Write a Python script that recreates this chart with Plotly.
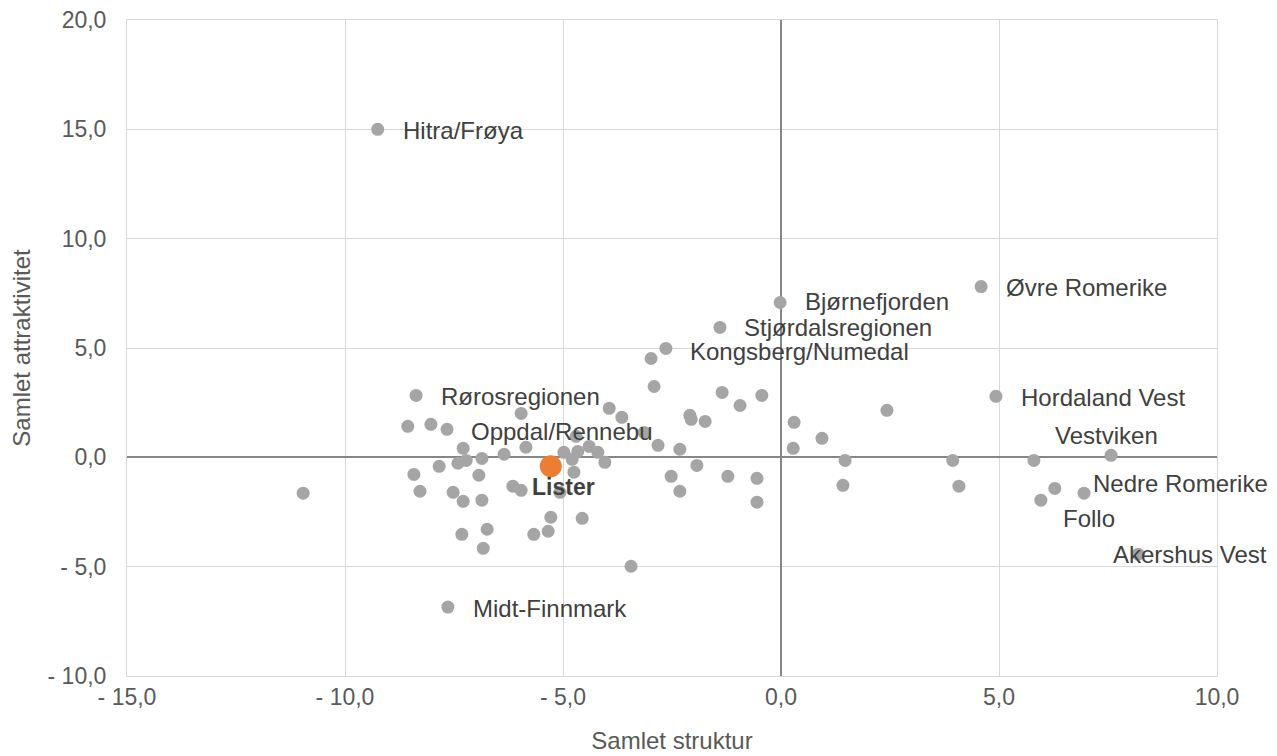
import plotly.graph_objects as go

# Labelled regions
label_names = ["Hitra/Frøya", "Midt-Finnmark", "Bjørnefjorden", "Stjørdalsregionen",
               "Kongsberg/Numedal", "Øvre Romerike", "Hordaland Vest", "Vestviken",
               "Nedre Romerike", "Follo", "Akershus Vest", "Rørosregionen", "Oppdal/Rennebu"]
label_x = [-9.25, -7.64, -0.02, -1.40, -2.64, 4.59, 4.93, 7.57, 6.95, 5.96, 8.19, -8.37, -7.66]
label_y = [15.0, -6.85, 7.08, 5.94, 4.98, 7.81, 2.79, 0.09, -1.64, -1.96, -4.43, 2.83, 1.28]

# Unlabelled regions
other_x = [-10.96, -8.56, -8.03, -7.29, -7.22, -7.41, -7.84, -8.42, -8.28, -7.52,
           -7.29, -6.86, -6.93, -6.86, -7.32, -6.74, -6.83, -6.35, -5.96, -5.85,
           -6.15, -5.96, -5.67, -5.34, -5.28, -4.56, -3.44, -5.07, -4.98, -4.79,
           -4.75, -4.66, -4.40, -4.20, -4.04, -4.70, -3.94, -3.65, -3.14, -2.91,
           -2.98, -2.82, -2.32, -1.93, -2.52, -2.32, -2.09, -2.06, -1.74, -1.35,
           -0.94, -0.44, -1.22, -0.55, -0.55, 0.30, 0.28, 0.94, 2.43, 1.47,
           1.42, 3.94, 4.08, 5.80, 6.28]
other_y = [-1.64, 1.42, 1.51, 0.41, -0.14, -0.27, -0.41, -0.78, -1.55, -1.60,
           -2.01, -1.96, -0.82, -0.05, -3.52, -3.29, -4.16, 0.14, 2.01, 0.46,
           -1.32, -1.51, -3.52, -3.38, -2.74, -2.79, -4.98, -1.60, 0.23, -0.09,
           -0.68, 0.27, 0.50, 0.23, -0.23, 0.96, 2.24, 1.83, 1.14, 3.24,
           4.52, 0.55, 0.37, -0.37, -0.87, -1.55, 1.92, 1.74, 1.64, 2.97,
           2.37, 2.83, -0.87, -0.96, -2.05, 1.60, 0.41, 0.87, 2.15, -0.14,
           -1.28, -0.14, -1.32, -0.14, -1.42]

# Highlighted region
focus_name = "Lister"
focus_x = [-5.28]
focus_y = [-0.41]

x_ticks = [-15, -10, -5, 0, 5, 10]
x_ticktext = ["- 15,0", "- 10,0", "- 5,0", "0,0", "5,0", "10,0"]
y_ticks = [-10, -5, 0, 5, 10, 15, 20]
y_ticktext = ["- 10,0", "- 5,0", "0,0", "5,0", "10,0", "15,0", "20,0"]

# label placement (style): (xanchor, xshift, yshift)
label_style = {
    "Vestviken": ("left", -58, 20),
    "Nedre Romerike": ("left", 7, 10),
    "Follo": ("left", 20, -18),
    "Akershus Vest": ("left", -27, 0),
    "Oppdal/Rennebu": ("left", 22, -2),
    "Bjørnefjorden": ("left", 23, 1),
    "Stjørdalsregionen": ("left", 22, 0),
    "Kongsberg/Numedal": ("left", 22, -3),
}

FONT = "Liberation Sans, Arial, sans-serif"
GRAY = "#A5A5A5"

fig = go.Figure()
fig.add_trace(go.Scatter(x=other_x + label_x, y=other_y + label_y, mode="markers",
                         marker=dict(size=13, color=GRAY), hoverinfo="x+y", showlegend=False))
fig.add_trace(go.Scatter(x=focus_x, y=focus_y, mode="markers",
                         marker=dict(size=22, color="#ED7D31"), showlegend=False))

for n, x, y in zip(label_names, label_x, label_y):
    anchor, xs, ys = label_style.get(n, ("left", 23, -1))
    fig.add_annotation(x=x, y=y, text=n, showarrow=False, xanchor=anchor, yanchor="middle",
                       xshift=xs, yshift=ys, font=dict(family=FONT, size=24, color="#404040"))

fig.add_annotation(x=focus_x[0], y=focus_y[0], text="<b>" + focus_name + "</b>", showarrow=False,
                   xanchor="center", yanchor="middle", xshift=13, yshift=-21,
                   font=dict(family=FONT, size=23, color="#404040"))

axis_common = dict(showgrid=True, gridcolor="#D9D9D9", gridwidth=1,
                   zeroline=True, zerolinecolor="#868686", zerolinewidth=1.5,
                   showline=True, linecolor="#D9D9D9", linewidth=1, mirror=True,
                   automargin=False, ticklen=0, ticklabeloverflow="allow",
                   ticks="", tickfont=dict(family=FONT, size=23, color="#595959"))

fig.update_xaxes(range=[-15, 10], tickvals=x_ticks, ticktext=x_ticktext, ticklabelstandoff=0,
                 title=dict(text="Samlet struktur", font=dict(family=FONT, size=24, color="#595959"),
                            standoff=23), **axis_common)
fig.update_yaxes(range=[-10, 20], tickvals=y_ticks, ticktext=y_ticktext, ticklabelstandoff=15,
                 title=dict(text="Samlet attraktivitet", font=dict(family=FONT, size=24, color="#595959"),
                            standoff=10), **axis_common)

# page body adds an 8px offset; figure size compensates
fig.update_layout(width=1269, height=748, margin=dict(l=119, r=60, t=12, b=80),
                  paper_bgcolor="white", plot_bgcolor="white", showlegend=False,
                  font=dict(family=FONT))

fig.write_html("out.html")
